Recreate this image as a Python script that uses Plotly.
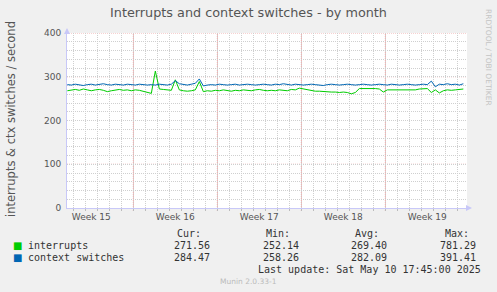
import plotly.graph_objects as go
import pandas as pd

# ---- data (8-hour samples) ----
start_time = "2025-04-08 12:00"
interrupts = [268, 270, 271, 269, 272, 270, 268, 270, 271, 269, 266, 268, 270, 271, 269, 270,
              268, 270, 269, 267, 265, 262, 313, 272, 271, 270, 269, 293, 270, 268, 267, 268,
              270, 289, 266, 268, 267, 269, 268, 270, 268, 267, 269, 268, 270, 269, 268, 270,
              271, 269, 268, 269, 268, 270, 269, 268, 271, 270, 274, 272, 270, 268, 267, 267,
              266, 266, 265, 265, 264, 265, 264, 261, 264, 273, 273, 274, 273, 273, 272, 265,
              270, 270, 271, 270, 270, 271, 270, 270, 272, 272, 273, 264, 270, 263, 268, 270,
              269, 270, 271, 272]
context_switches = [282, 281, 283, 282, 280, 282, 283, 281, 282, 284, 282, 281, 283, 282, 281, 283,
                    282, 281, 283, 282, 281, 282, 281, 283, 282, 281, 283, 291, 284, 282, 281, 283,
                    285, 295, 279, 281, 282, 281, 283, 282, 281, 282, 283, 281, 282, 283, 282, 281,
                    282, 283, 282, 281, 283, 282, 284, 282, 281, 283, 282, 281, 282, 283, 282, 281,
                    280, 282, 283, 282, 281, 282, 283, 282, 281, 282, 283, 282, 281, 282, 283, 282,
                    281, 283, 282, 281, 282, 283, 282, 281, 282, 283, 282, 290, 277, 283, 282, 284,
                    282, 283, 281, 284]
week_labels = ["Week 15", "Week 16", "Week 17", "Week 18", "Week 19"]
week_centers = ["2025-04-10 12:00", "2025-04-17 12:00", "2025-04-24 12:00",
                "2025-05-01 12:00", "2025-05-08 12:00"]
week_starts = ["2025-04-14", "2025-04-21", "2025-04-28", "2025-05-05"]
y_ticks = [0, 100, 200, 300, 400]
x_range = ["2025-04-08 11:20", "2025-05-11 19:20"]

legend_names = ["interrupts", "context switches"]
colors = ["#00CC00", "#0066B3"]
stats_cur = ["271.56", "284.47"]
stats_min = ["252.14", "258.26"]
stats_avg = ["269.40", "282.09"]
stats_max = ["781.29", "391.41"]

times = pd.date_range(start_time, periods=len(interrupts), freq="8h")

# ---- geometry helpers (pixel -> paper) ----
W, H = 497, 292
L, R, T, B = 67, 467, 33, 208
def px(x):
    return (x - L) / (R - L)
def py(y):
    return (B - y) / (B - T)

grid_minor = "#CFCFCF"
grid_major = "#EFA3A3"
axis_col = "#C8C8F8"
tick_font = dict(family="DejaVu Sans", size=9, color="#555555")

fig = go.Figure()

# major (red) grid lines, drawn above the minor grid
shapes = []
for ws in week_starts:
    shapes.append(dict(type="line", xref="x", yref="paper", x0=ws, x1=ws, y0=py(211), y1=1,
                       line=dict(color=grid_major, width=1, dash="1px,1px"), layer="below"))
for yt in y_ticks[1:]:
    shapes.append(dict(type="line", xref="paper", yref="y", x0=0, x1=1, y0=yt, y1=yt,
                       line=dict(color=grid_major, width=1, dash="1px,1px"), layer="below"))

for name, vals, c in zip(legend_names, [interrupts, context_switches], colors):
    fig.add_trace(go.Scatter(x=times, y=vals, mode="lines", name=name,
                             line=dict(color=c, width=1), showlegend=False))

fig.update_layout(
    width=W, height=H,
    margin=dict(l=L, r=W - R, t=T, b=H - B),
    paper_bgcolor="#F0F0F0", plot_bgcolor="#FFFFFF",
    shapes=shapes,
    xaxis=dict(type="date", range=x_range, tickmode="array", tickvals=week_centers,
               ticktext=week_labels, showgrid=False, zeroline=False,
               showline=True, linecolor=axis_col, linewidth=1,
               ticks="", tickfont=tick_font,
               minor=dict(dtick=86400000, tick0="2025-04-07", showgrid=True,
                          gridcolor=grid_minor, griddash="1px,1px", gridwidth=1,
                          ticks="outside", ticklen=2, tickcolor="#BBBBBB")),
    yaxis=dict(range=[0, 400], tickmode="array", tickvals=y_ticks,
               showgrid=False, zeroline=False, showline=True, linecolor=axis_col, linewidth=1,
               ticks="", tickfont=tick_font, ticklabelstandoff=3,
               minor=dict(dtick=20, tick0=0, showgrid=True, gridcolor=grid_minor,
                          griddash="1px,1px", gridwidth=1)),
)

ann = []
def text(x, y, s, size=10, color="#333333", family="DejaVu Sans Mono", anchor="left", angle=0):
    ann.append(dict(x=px(x), y=py(y), xref="paper", yref="paper", text=s, showarrow=False,
                    xanchor=anchor, yanchor="middle", textangle=angle,
                    font=dict(family=family, size=size, color=color)))

text(248, 13, "Interrupts and context switches - by month", size=12.8, color="#555555",
     family="DejaVu Sans", anchor="center")
text(11, 119, "interrupts &amp; ctx switches / second", size=11.5, color="#555555",
     family="DejaVu Sans", anchor="center", angle=-90)
text(489, 57, "RRDTOOL / TOBI OETIKER", size=7.5, color="#C4C4C4",
     family="DejaVu Sans", anchor="center", angle=90)

# legend table
text(203, 233, "Cur:", anchor="right")
text(292, 233, "Min:", anchor="right")
text(381, 233, "Avg:", anchor="right")
text(471, 233, "Max:", anchor="right")
for i, (name, c) in enumerate(zip(legend_names, colors)):
    yy = 245.5 + 12 * i
    ann.append(dict(x=px(17), y=py(yy), xref="paper", yref="paper", text="■", showarrow=False,
                    xanchor="center", yanchor="middle",
                    font=dict(family="DejaVu Sans", size=10, color=c)))
    text(26, yy, name)
    text(212, yy, stats_cur[i], anchor="right")
    text(301, yy, stats_min[i], anchor="right")
    text(389, yy, stats_avg[i], anchor="right")
    text(478, yy, stats_max[i], anchor="right")
text(483, 269, "Last update: Sat May 10 17:45:00 2025", anchor="right")
text(248, 281, "Munin 2.0.33-1", size=7.5, color="#BBBBBB", family="DejaVu Sans", anchor="center")

# axis arrowheads
ann.append(dict(x=0, y=1, xref="paper", yref="paper", ax=0, ay=6, axref="pixel", ayref="pixel",
                text="", showarrow=True, arrowhead=2, arrowsize=1.2, arrowwidth=1,
                arrowcolor=axis_col, yshift=5))
ann.append(dict(x=1, y=0, xref="paper", yref="paper", ax=-6, ay=0, axref="pixel", ayref="pixel",
                text="", showarrow=True, arrowhead=2, arrowsize=1.2, arrowwidth=1,
                arrowcolor=axis_col, xshift=5))
fig.update_layout(annotations=ann)

fig.write_html("out.html")
